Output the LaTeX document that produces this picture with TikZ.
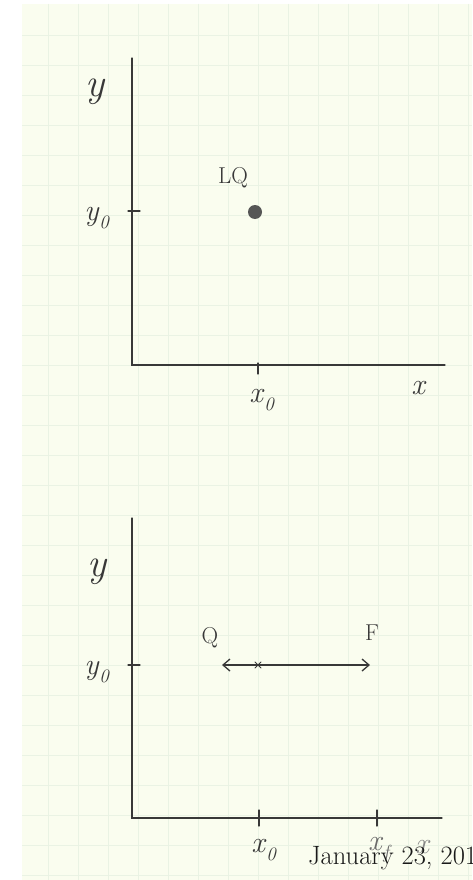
\documentclass[tikz,border=0pt]{standalone}
\usepackage{fontspec}
\usetikzlibrary{arrows.meta}
\definecolor{paper}{HTML}{FAFDEF}
\definecolor{gridc}{HTML}{EAF3E4}
\definecolor{ink}{HTML}{383838}
\newcommand{\hsubscr}[2]{\textit{#1}\raisebox{-0.28em}{\fontsize{19}{19}\selectfont\textit{#2}}}
\tikzset{
  ink line/.style={draw=ink, line width=1.3pt, line cap=round},
  hand/.style={text=ink, inner sep=0pt},
  bigy/.style={hand, font=\fontsize{40}{40}\selectfont\itshape},
  sub/.style={hand, font=\fontsize{30}{30}\selectfont},
  caplab/.style={hand, font=\fontsize{23}{23}\selectfont},
  datetext/.style={text=black!90, inner sep=0pt, anchor=base west, font=\fontsize{26.5}{26.5}\selectfont},
}
\begin{document}
\begin{tikzpicture}[x=1pt, y=-1pt]
\useasboundingbox (0,0) rectangle (472,880);
% paper
\fill[white] (0,0) rectangle (472,880);
\fill[paper] (22,4) rectangle (472,880);
\foreach \gx in {48,78,...,468} \draw[gridc, line width=0.7pt] (\gx,4) -- (\gx,880);
\foreach \gy in {35,65,...,875} \draw[gridc, line width=0.7pt] (22,\gy) -- (472,\gy);

% ---------- top panel ----------
\coordinate (t-ytop) at (132,58);
\coordinate (t-o) at (132,365);
\coordinate (t-xend) at (445,365);
\draw[ink line] (t-ytop) -- (t-o) -- (t-xend);
\coordinate (t-x0a) at (258,363);
\coordinate (t-x0b) at (258,374);
\draw[ink line] (t-x0a) -- (t-x0b);
\coordinate (t-y0a) at (128,211);
\coordinate (t-y0b) at (140,211);
\draw[ink line] (t-y0a) -- (t-y0b);
\node[circle, fill=ink!85, minimum size=14pt, inner sep=0pt] (lq) at (255,212) {};
\node[caplab] (lqlab) at (233,178) {LQ};
\node[bigy] (t-ylab) at (95,92) {y};
\node[sub] (t-y0lab) at (97,218) {\hsubscr{y}{0}};
\node[sub] (t-x0lab) at (262,400) {\hsubscr{x}{0}};
\node[sub, font=\fontsize{30}{30}\selectfont\itshape] (t-xlab) at (418,388) {x};

% ---------- bottom panel ----------
\coordinate (b-ytop) at (132,518);
\coordinate (b-o) at (132,818);
\coordinate (b-xend) at (442,818);
\draw[ink line] (b-ytop) -- (b-o) -- (b-xend);
\coordinate (b-y0a) at (128,665);
\coordinate (b-y0b) at (140,665);
\draw[ink line] (b-y0a) -- (b-y0b);
\coordinate (b-x0a) at (259,810);
\coordinate (b-x0b) at (259,826);
\draw[ink line] (b-x0a) -- (b-x0b);
\coordinate (b-xfa) at (377,810);
\coordinate (b-xfb) at (377,826);
\draw[ink line] (b-xfa) -- (b-xfb);
\coordinate (qend) at (222,665);
\coordinate (fend) at (370,665);
\draw[ink line, {Straight Barb[length=7pt,width=12pt,line width=1.3pt]}-{Straight Barb[length=7pt,width=12pt,line width=1.3pt]}] (qend) -- (fend);
\coordinate (cx1) at (255,662);
\coordinate (cx2) at (261,668);
\coordinate (cx3) at (255,668);
\coordinate (cx4) at (261,662);
\draw[ink line, line width=1pt] (cx1) -- (cx2) (cx3) -- (cx4);
\node[caplab] (qlab) at (210,638) {Q};
\node[caplab] (flab) at (372,633) {F};
\node[bigy] (b-ylab) at (97,572) {y};
\node[sub] (b-y0lab) at (97,672) {\hsubscr{y}{0}};
\node[sub] (b-x0lab) at (264,850) {\hsubscr{x}{0}};
\node[sub, text=ink!75] (b-xflab) at (380,850) {\hsubscr{x}{f}};
\node[sub, text=ink!60, font=\fontsize{30}{30}\selectfont\itshape] (b-xlab) at (422,847) {x};
\node[datetext] (date) at (308,864) {January 23, 201};
\end{tikzpicture}
\end{document}
